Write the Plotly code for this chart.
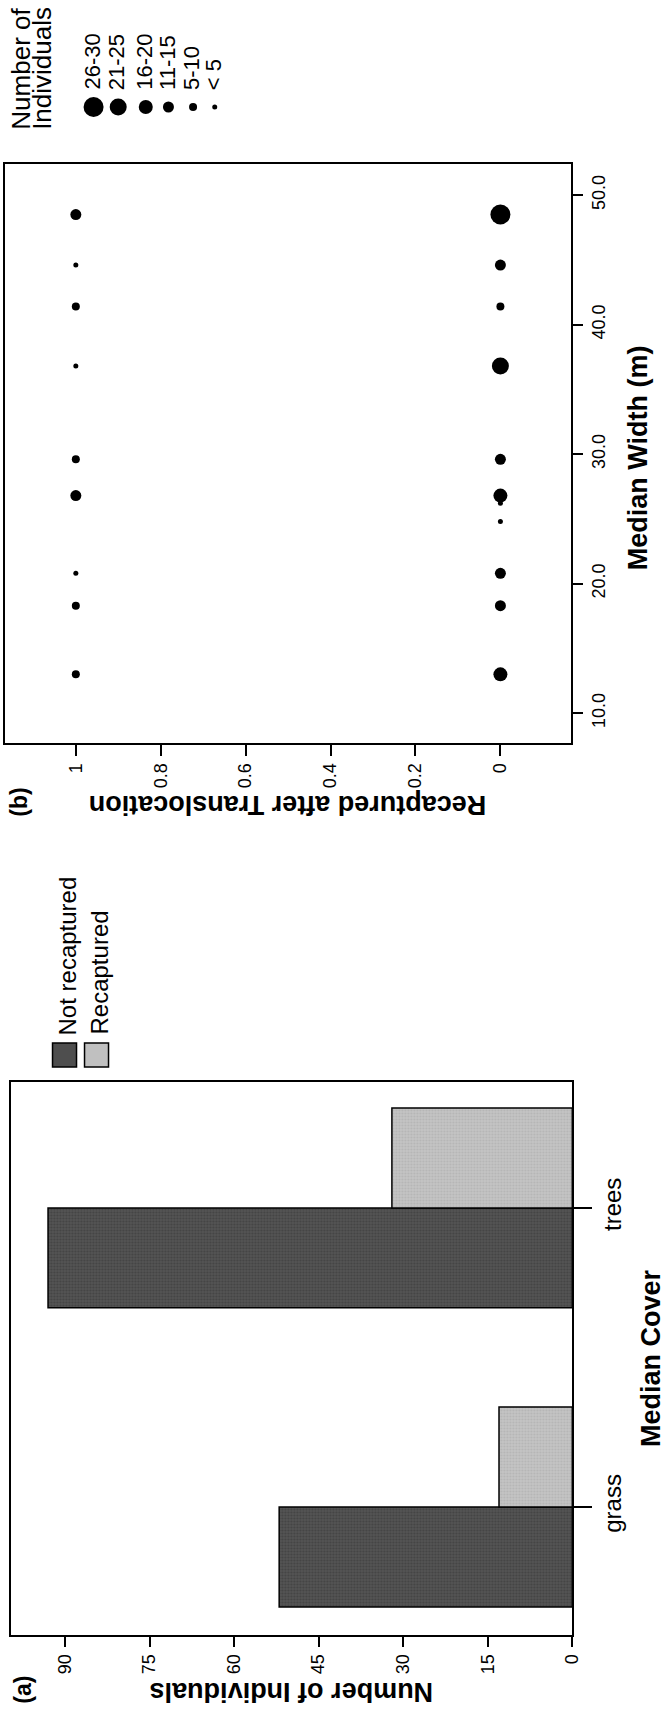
import plotly.graph_objects as go

W, H = 667, 1714
FONT = "Liberation Sans, Arial, sans-serif"

# Panel (a): individuals by median cover and recapture outcome
cover = ["grass", "trees"]
not_recaptured = [52, 93]
recaptured = [13, 32]

# Panel (b): individuals per site median width, split by recapture outcome
width_not_recaptured = [48.5, 44.6, 41.4, 36.8, 29.6, 26.8, 26.2, 24.8, 20.8, 18.3, 13.0]
count_not_recaptured = [28, 12, 6, 22, 13, 16, 2, 3, 12, 11, 20]
width_recaptured = [48.5, 44.6, 41.4, 36.8, 29.6, 26.8, 20.8, 18.3, 13.0]
count_recaptured = [11, 1, 5, 1, 5, 11, 1, 5, 5]

# Size classes for the bubble legend
size_labels = ["26-30", "21-25", "16-20", "11-15", "5-10", "< 5"]
size_reps = [28, 23, 18, 13, 8, 3]

value_ticks_a = [0, 15, 30, 45, 60, 75, 90]
value_ticks_b = [0, 0.2, 0.4, 0.6, 0.8, 1]
value_ticktext_b = ["0", "0.2", "0.4", "0.6", "0.8", "1"]
width_ticks = [10, 20, 30, 40, 50]


def diameter(n):
    if n < 5:
        return 5
    if n <= 10:
        return 8
    if n <= 15:
        return 11
    if n <= 20:
        return 14
    if n <= 25:
        return 17
    return 20


def px(x):
    return x / W


def py(y):
    return 1 - y / H


def label(text, x, y, angle, size, bold=False, xanchor="center", yanchor="middle"):
    return dict(
        text=f"<b>{text}</b>" if bold else text,
        x=px(x), y=py(y), xref="paper", yref="paper",
        showarrow=False, textangle=angle,
        xanchor=xanchor, yanchor=yanchor,
        font=dict(family=FONT, size=size, color="black"),
    )


fig = go.Figure()

# ---- panel (b): bubble plot ----
fig.add_trace(go.Scatter(
    x=[0] * len(width_not_recaptured), y=width_not_recaptured,
    mode="markers", xaxis="x", yaxis="y",
    marker=dict(color="black", opacity=1, size=[diameter(n) for n in count_not_recaptured],
                line=dict(width=0)),
    showlegend=False,
))
fig.add_trace(go.Scatter(
    x=[1] * len(width_recaptured), y=width_recaptured,
    mode="markers", xaxis="x", yaxis="y",
    marker=dict(color="black", opacity=1, size=[diameter(n) for n in count_recaptured],
                line=dict(width=0)),
    showlegend=False,
))

# ---- panel (a): grouped horizontal bars ----
cat_pos = list(range(len(cover)))
fig.add_trace(go.Bar(
    y=cat_pos, x=not_recaptured, orientation="h",
    width=0.334, offset=-0.334, xaxis="x2", yaxis="y2",
    marker=dict(color="#4e4e4e", line=dict(color="black", width=1.5),
                pattern=dict(shape=".", fgcolor="#333333", bgcolor="#535353",
                             size=3, solidity=0.35)),
    showlegend=False,
))
fig.add_trace(go.Bar(
    y=cat_pos, x=recaptured, orientation="h",
    width=0.334, offset=0, xaxis="x2", yaxis="y2",
    marker=dict(color="#c0c0c0", line=dict(color="black", width=1.5),
                pattern=dict(shape=".", fgcolor="#a4a4a4", bgcolor="#c4c4c4",
                             size=3, solidity=0.35)),
    showlegend=False,
))

# ---- legends drawn on a full-page overlay axis ----
legend_x = [95, 120, 148, 171, 196, 218]
fig.add_trace(go.Scatter(
    x=legend_x, y=[107] * len(size_reps), mode="markers",
    xaxis="x3", yaxis="y3",
    marker=dict(color="black", opacity=1, size=[diameter(n) for n in size_reps],
                line=dict(width=0)),
    showlegend=False, hoverinfo="skip",
))
fig.add_trace(go.Scatter(
    x=[65.5, 98], y=[1055, 1055], mode="markers",
    xaxis="x3", yaxis="y3",
    marker=dict(symbol="square", size=24, opacity=1, color=["#4e4e4e", "#c0c0c0"],
                line=dict(color="black", width=1.5)),
    showlegend=False, hoverinfo="skip",
))

axis_common = dict(
    showgrid=False, zeroline=False, showline=True, linecolor="black", linewidth=2,
    mirror=True, ticks="outside", tickcolor="black", tickwidth=1.5,
    tickfont=dict(family=FONT, size=18, color="black"),
)

annotations = [
    # panel (b)
    label("Recaptured after Translocation", 292, 805, 180, 27, bold=True),
    label("(b)", 19, 802, -90, 23, bold=True),
    label("Median Width (m)", 648, 458, -90, 27, bold=True),
    label("Number of", 21, 132, -90, 26, yanchor="bottom"),
    label("Individuals", 42, 132, -90, 26, yanchor="bottom"),
    # panel (a)
    label("Number of Individuals", 296, 1692, 180, 27, bold=True),
    label("(a)", 23, 1690, -90, 23, bold=True),
    label("Median Cover", 661, 1358, -90, 27, bold=True),
    label("Not recaptured", 69, 1037, -90, 24, yanchor="bottom"),
    label("Recaptured", 100, 1037, -90, 24, yanchor="bottom"),
]
for xl, lab in zip(legend_x, size_labels):
    annotations.append(label(lab, xl - 1, 92, -90, 22, yanchor="bottom"))

fig.update_layout(
    width=W, height=H,
    margin=dict(l=0, r=0, t=0, b=0),
    paper_bgcolor="white", plot_bgcolor="rgba(0,0,0,0)",
    barmode="overlay",
    showlegend=False,
    xaxis=dict(axis_common, domain=[px(5), px(580)], anchor="y",
               range=[1.167, -0.167], tickvals=value_ticks_b, ticktext=value_ticktext_b,
               tickangle=-90, ticklen=11),
    yaxis=dict(axis_common, domain=[py(743), py(164)], anchor="x", side="right",
               range=[7.7, 52.4], tickvals=width_ticks,
               ticktext=[f"{v:.1f}" for v in width_ticks],
               tickangle=-90, ticklen=10),
    xaxis2=dict(axis_common, domain=[px(11), px(581)], anchor="y2",
                range=[99.6, 0], tickvals=value_ticks_a, tickangle=-90, ticklen=10),
    yaxis2=dict(axis_common, domain=[py(1635), py(1082)], anchor="x2", side="right",
                range=[-0.428, 1.421], tickvals=cat_pos, ticktext=cover,
                tickangle=-90, ticklen=18,
                tickfont=dict(family=FONT, size=24, color="black")),
    xaxis3=dict(domain=[0, 1], range=[0, W], visible=False, anchor="y3", fixedrange=True),
    yaxis3=dict(domain=[0, 1], range=[H, 0], visible=False, anchor="x3", fixedrange=True),
    annotations=annotations,
)

fig.write_html("out.html")
